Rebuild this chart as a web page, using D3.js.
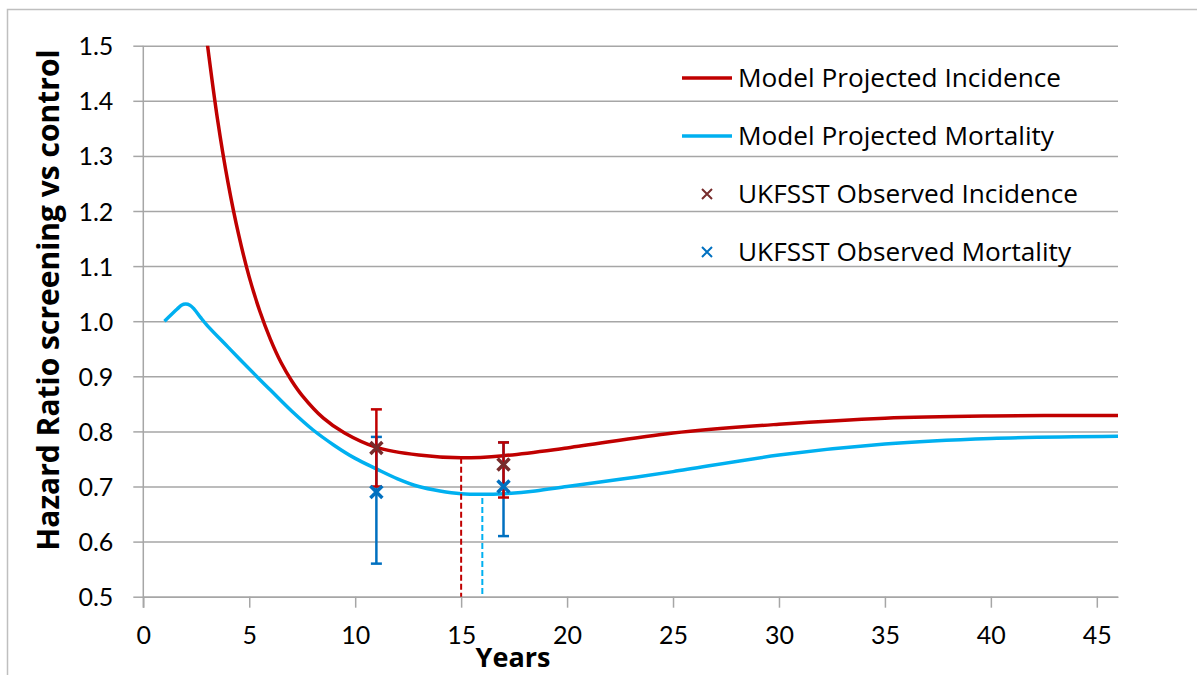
<!DOCTYPE html>
<html>
<head>
<meta charset="utf-8">
<script src="https://cdn.jsdelivr.net/npm/d3@7"></script>
<style>
  body { margin: 0; background: #fff; }
  text { font-family: Lato, "Open Sans", sans-serif; fill: #000; }
  .axisTitle { font-family: "Open Sans", sans-serif; font-weight: bold; }
  .legendText { font-family: "Open Sans", sans-serif; }
</style>
</head>
<body>
<div id="chart"></div>
<script>
// model curves
var incYears = [3, 3.5, 4, 4.5, 5, 5.5, 6, 6.5, 7, 7.5, 8.5, 9.5, 11, 13, 15, 17, 20, 25, 30, 35, 40, 46];
var incHR = [1.51, 1.367, 1.251, 1.157, 1.08, 1.018, 0.967, 0.925, 0.892, 0.865, 0.824, 0.797, 0.771, 0.757, 0.752, 0.756, 0.770, 0.797, 0.813, 0.824, 0.828, 0.829];

var mortYears = [1, 1.6, 1.8, 2, 2.2, 2.4, 2.7, 3, 4, 5.27, 6, 7, 8, 9, 10, 11, 12, 13, 14, 15, 16, 17, 18.5, 20, 22.5, 25, 30, 35, 40, 46];
var mortHR = [1.0, 1.022, 1.029, 1.031, 1.029, 1.022, 1.007, 0.993, 0.953, 0.903, 0.875, 0.837, 0.803, 0.775, 0.751, 0.732, 0.714, 0.700, 0.692, 0.687, 0.686, 0.687, 0.692, 0.70, 0.713, 0.727, 0.757, 0.777, 0.787, 0.791];

// UKFSST observed points
var obsYears = [11, 17];
var obsInc = [0.77, 0.74];
var obsIncLo = [0.70, 0.68];
var obsIncHi = [0.84, 0.78];
var obsMort = [0.69, 0.70];
var obsMortLo = [0.56, 0.61];
var obsMortHi = [0.79, 0.78];

// minimum markers (dashed drop lines)
var minIncYear = 15, minIncHR = 0.752;
var minMortYear = 16, minMortHR = 0.679;

var xTicks = [0, 5, 10, 15, 20, 25, 30, 35, 40, 45];
var yTicks = [0.5, 0.6, 0.7, 0.8, 0.9, 1.0, 1.1, 1.2, 1.3, 1.4, 1.5];

var legendLabels = ["Model Projected Incidence", "Model Projected Mortality", "UKFSST Observed Incidence", "UKFSST Observed Mortality"];

var svgWidth = 1197, svgHeight = 675;
var margin = { top: 45.7, left: 143.3 };
var width = 974.7, height = 551;

var red = "#C00000", sky = "#00B0F0", brown = "#772C2C", blue = "#0070C0", grid = "#A6A6A6";

var svg = d3.select("#chart").append("svg")
  .attr("width", svgWidth)
  .attr("height", svgHeight);

// outer frame
svg.append("rect")
  .attr("x", 7.5).attr("y", 9.5)
  .attr("width", 1200).attr("height", 700)
  .attr("fill", "none")
  .attr("stroke", "#BFBFBF")
  .attr("stroke-width", 1.5);

var chartGroup = svg.append("g")
  .attr("transform", `translate(${margin.left}, ${margin.top})`);

var x = d3.scaleLinear().domain([0, 46]).range([0, width]);
var y = d3.scaleLinear().domain([0.5, 1.5]).range([height, 0]);

// gridlines + y ticks
chartGroup.append("g")
  .call(d3.axisLeft(y).tickValues(yTicks).tickSize(-width - 10).tickFormat(d3.format(".1f")))
  .attr("transform", "translate(-10,0)")
  .call(g => g.select(".domain").remove())
  .call(g => g.selectAll(".tick line").attr("x1", 10).attr("x2", width + 10)
    .attr("stroke", grid).attr("stroke-width", 1.5))
  .call(g => g.selectAll(".tick").append("line")
    .attr("x1", 0).attr("x2", 10).attr("stroke", grid).attr("stroke-width", 1.5))
  .call(g => g.selectAll(".tick text").attr("x", -20).attr("dy", "0.36em")
    .style("font-size", "25px").attr("fill", "#000"));

// x axis
chartGroup.append("g")
  .attr("transform", `translate(0, ${height})`)
  .call(d3.axisBottom(x).tickValues(xTicks).tickSize(11).tickSizeOuter(0))
  .call(g => g.select(".domain").attr("stroke", grid).attr("stroke-width", 1.5))
  .call(g => g.selectAll(".tick line").attr("stroke", grid).attr("stroke-width", 1.5))
  .call(g => g.selectAll(".tick text").attr("y", 30).attr("dy", "0.71em")
    .style("font-size", "25px").attr("fill", "#000"));

// y axis line
chartGroup.append("line")
  .attr("x1", 0).attr("x2", 0)
  .attr("y1", 0).attr("y2", height + 11)
  .attr("stroke", grid).attr("stroke-width", 1.5);

// clip curves to plot area
chartGroup.append("clipPath").attr("id", "plotClip")
  .append("rect").attr("x", 0).attr("y", 0).attr("width", width).attr("height", height);

var line = d3.line()
  .x(d => x(d[0]))
  .y(d => y(d[1]))
  .curve(d3.curveCatmullRom.alpha(0.5));

chartGroup.append("path")
  .datum(mortYears.map((d, i) => [d, mortHR[i]]))
  .attr("clip-path", "url(#plotClip)")
  .attr("d", line)
  .attr("fill", "none")
  .attr("stroke", sky)
  .attr("stroke-width", 3.5);

chartGroup.append("path")
  .datum(incYears.map((d, i) => [d, incHR[i]]))
  .attr("clip-path", "url(#plotClip)")
  .attr("d", line)
  .attr("fill", "none")
  .attr("stroke", red)
  .attr("stroke-width", 3.5);

// dashed drop lines
chartGroup.append("line")
  .attr("x1", x(minIncYear)).attr("x2", x(minIncYear))
  .attr("y1", y(minIncHR)).attr("y2", height)
  .attr("stroke", red).attr("stroke-width", 2).attr("stroke-dasharray", "6,3");

chartGroup.append("line")
  .attr("x1", x(minMortYear)).attr("x2", x(minMortYear))
  .attr("y1", y(minMortHR)).attr("y2", height)
  .attr("stroke", sky).attr("stroke-width", 2).attr("stroke-dasharray", "6,3");

// error bars
function errorBars(lo, hi, color) {
  var g = chartGroup.append("g").attr("stroke", color).attr("stroke-width", 2.5);
  obsYears.forEach(function(yr, i) {
    g.append("line").attr("x1", x(yr)).attr("x2", x(yr)).attr("y1", y(lo[i])).attr("y2", y(hi[i]));
    g.append("line").attr("x1", x(yr) - 5.5).attr("x2", x(yr) + 5.5).attr("y1", y(lo[i])).attr("y2", y(lo[i]));
    g.append("line").attr("x1", x(yr) - 5.5).attr("x2", x(yr) + 5.5).attr("y1", y(hi[i])).attr("y2", y(hi[i]));
  });
}
errorBars(obsMortLo, obsMortHi, blue);
errorBars(obsIncLo, obsIncHi, red);

// x markers
function crossPath(cx, cy, s) {
  return `M${cx - s},${cy - s}L${cx + s},${cy + s}M${cx - s},${cy + s}L${cx + s},${cy - s}`;
}
function markers(vals, color) {
  chartGroup.selectAll(null)
    .data(obsYears)
    .enter()
    .append("path")
    .attr("d", (d, i) => crossPath(x(d), y(vals[i]), 6))
    .attr("stroke", color)
    .attr("stroke-width", 3.5)
    .attr("fill", "none");
}
markers(obsInc, brown);
markers(obsMort, blue);

// legend
var legendRows = [78, 136, 194, 252];
var legend = svg.append("g");
legendLabels.forEach(function(label, i) {
  var ly = legendRows[i];
  if (i < 2) {
    legend.append("line")
      .attr("x1", 682).attr("x2", 732).attr("y1", ly).attr("y2", ly)
      .attr("stroke", i === 0 ? red : sky).attr("stroke-width", 3.5);
  } else {
    legend.append("path")
      .attr("d", crossPath(707, ly, 5))
      .attr("stroke", i === 2 ? brown : blue)
      .attr("stroke-width", 2)
      .attr("fill", "none");
  }
  legend.append("text")
    .attr("class", "legendText")
    .attr("x", 738).attr("y", ly)
    .attr("dy", "0.36em")
    .style("font-size", "26.2px")
    .text(label);
});

// axis titles
svg.append("text")
  .attr("class", "axisTitle")
  .attr("transform", "translate(59, 300) rotate(-90)")
  .attr("text-anchor", "middle")
  .style("font-size", "30px")
  .text("Hazard Ratio screening vs control");

svg.append("text")
  .attr("class", "axisTitle")
  .attr("x", 513).attr("y", 667)
  .attr("text-anchor", "middle")
  .style("font-size", "27px")
  .text("Years");
</script>
</body>
</html>
